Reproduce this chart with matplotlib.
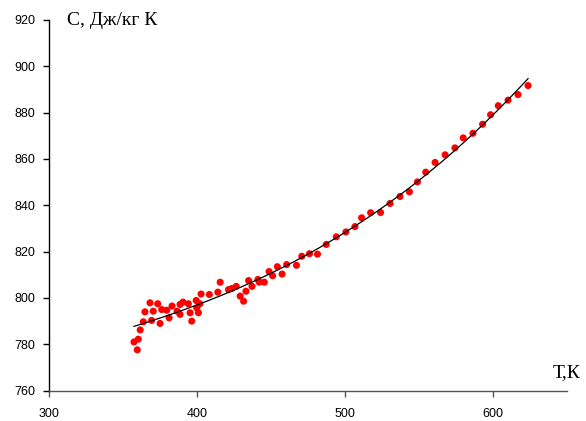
import numpy as np
import matplotlib.pyplot as plt

# measured points: temperature, K and specific heat, J/(kg K)
T = [357.6, 359.8, 360.5, 361.8, 363.9, 365.0, 368.4, 369.5, 370.6, 373.6,
     375.2, 376.3, 379.7, 381.3, 383.3, 386.7, 388.7, 390.7, 388.7, 394.3,
     395.5, 396.6, 399.6, 400.0, 401.1, 402.1, 402.9, 408.5, 414.2, 415.8,
     421.4, 423.7, 426.6, 429.3, 431.6, 433.2, 435.0, 437.3, 441.3, 442.2,
     445.6, 448.8, 451.2, 454.4, 457.6, 460.7, 467.3, 470.9, 476.1, 481.5,
     487.4, 494.2, 500.7, 506.8, 511.3, 517.4, 524.1, 530.5, 537.2, 543.6,
     549.0, 554.6, 560.9, 567.7, 574.3, 579.9, 586.5, 593.0, 598.4, 603.6,
     610.2, 616.9, 623.7]
C = [781.0, 777.6, 782.2, 786.2, 789.7, 794.0, 797.9, 790.3, 794.3, 797.5,
     789.0, 795.0, 794.7, 791.4, 796.5, 794.3, 797.2, 798.2, 792.9, 797.5,
     793.6, 790.0, 798.9, 795.7, 793.6, 797.5, 801.7, 801.5, 802.5, 806.8,
     803.6, 804.1, 805.0, 800.8, 798.6, 802.9, 807.5, 805.0, 808.0, 806.8,
     806.8, 811.4, 809.6, 813.5, 810.3, 814.4, 814.1, 818.0, 819.1, 818.9,
     823.1, 826.4, 828.5, 830.8, 834.6, 836.8, 836.9, 840.8, 843.8, 845.8,
     850.1, 854.3, 858.5, 861.8, 864.8, 869.1, 871.1, 875.0, 879.1, 883.0,
     885.4, 887.8, 891.7]
x_ticks = [300, 400, 500, 600]
y_ticks = [760, 780, 800, 820, 840, 860, 880, 900, 920]

fig = plt.figure(figsize=(5.86, 4.21), dpi=100)
ax = fig.add_axes([48.7/586, 1-390.6/421, (567-48.7)/586, (390.6-20)/421])

ax.scatter(T, C, s=26, color='#ff0000', edgecolors='none', zorder=2)

# polynomial trend line
coef = np.polyfit(T, C, 3)
tt = np.linspace(min(T), max(T), 200)
ax.plot(tt, np.polyval(coef, tt), color='black', lw=0.9, zorder=3)

ax.set_xlim(300, 650)
ax.set_ylim(760, 920)
ax.set_xticks(x_ticks)
ax.set_yticks(y_ticks)
for s in ['top', 'right']:
    ax.spines[s].set_visible(False)
ax.spines['left'].set_linewidth(1.0)
ax.spines['bottom'].set_linewidth(1.0)
ax.spines['bottom'].set_color('#555555')
ax.tick_params(direction='out', length=4.5, width=1.0, labelsize=9, pad=5)
ax.tick_params(axis='x', color='#555555', pad=8)
for lab in ax.get_xticklabels() + ax.get_yticklabels():
    lab.set_fontfamily('Liberation Sans')

fig.text(66.7/586, 1-25/421, 'С, Дж/кг К', fontsize=14, family='Liberation Serif')
fig.text(553/586, 1-377/421, 'Т,К', fontsize=14, family='Liberation Serif')

fig.savefig('out.png', dpi=100)
